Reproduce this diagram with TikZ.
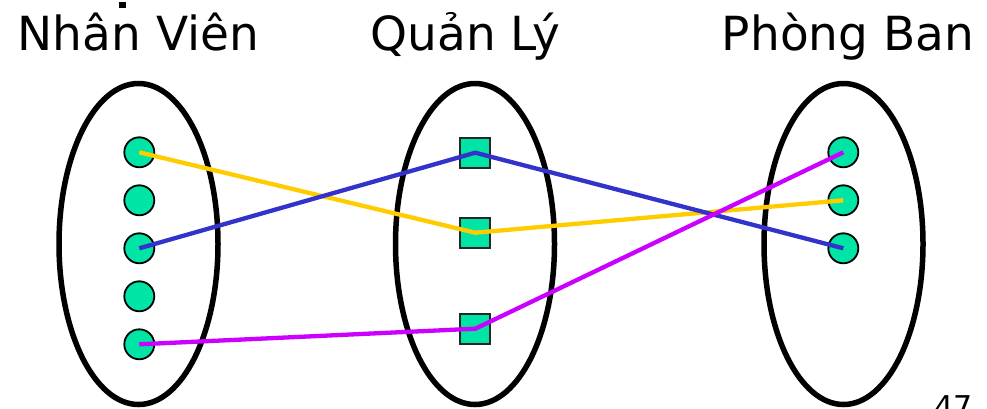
\documentclass[tikz,border=0pt]{standalone}
\usepackage{fontspec}
\setmainfont{DejaVu Sans}
\usetikzlibrary{shapes.geometric}
\definecolor{dotgreen}{RGB}{0,228,165}
\definecolor{lyellow}{RGB}{255,204,0}
\definecolor{lblue}{RGB}{51,51,204}
\definecolor{lmagenta}{RGB}{204,0,255}
\tikzset{
  setoval/.style={draw=black, line width=5.5pt, ellipse, minimum width=159pt, minimum height=321pt, inner sep=0pt},
  dotc/.style={draw=black, line width=1.8pt, fill=dotgreen, circle, minimum size=30pt, inner sep=0pt},
  dots/.style={draw=black!85, line width=1.8pt, fill=dotgreen, rectangle, minimum size=30pt, inner sep=0pt},
  title/.style={font=\fontsize{47}{56}\selectfont, anchor=base, inner sep=0pt},
  link/.style={line width=4.3pt},
}
\begin{document}
\begin{tikzpicture}[x=1pt,y=-1pt]
\useasboundingbox (0,0) rectangle (987,408);
\fill[white] (0,0) rectangle (987,408);
% titles
\node[title] (t1) at (138.5,50) {Nhân Viên};
\node[title] (t2) at (465.5,50) {Quản Lý};
\node[title] (t3) at (848,50) {Phòng Ban};
\fill[black] (119,2) rectangle (126,7.5);
% page number
\node[font=\fontsize{30}{36}\selectfont, anchor=base west, inner sep=0pt] (pg) at (934,417) {47};
% sets
\node[setoval] (e1) at (138.5,244) {};
\node[setoval] (e2) at (475,244) {};
\node[setoval] (e3) at (843.5,244) {};
% elements
\node[dotc] (a1) at (139.3,152.3) {};
\node[dotc] (a2) at (139.3,200.3) {};
\node[dotc] (a3) at (139.3,248.3) {};
\node[dotc] (a4) at (139.3,296.3) {};
\node[dotc] (a5) at (139.3,344.3) {};
\node[dots] (m1) at (475.3,152.7) {};
\node[dots] (m2) at (475.3,232.7) {};
\node[dots] (m3) at (475.3,328.7) {};
\node[dotc] (b1) at (843.3,152.3) {};
\node[dotc] (b2) at (843.3,200.3) {};
\node[dotc] (b3) at (843.3,248.3) {};
% links
\draw[link, lyellow] (a1.center) -- (m2.center) -- (b2.center);
\draw[link, lblue] (a3.center) -- (m1.center) -- (b3.center);
\draw[link, lmagenta] (a5.center) -- (m3.center) -- (b1.center);
\end{tikzpicture}
\end{document}
